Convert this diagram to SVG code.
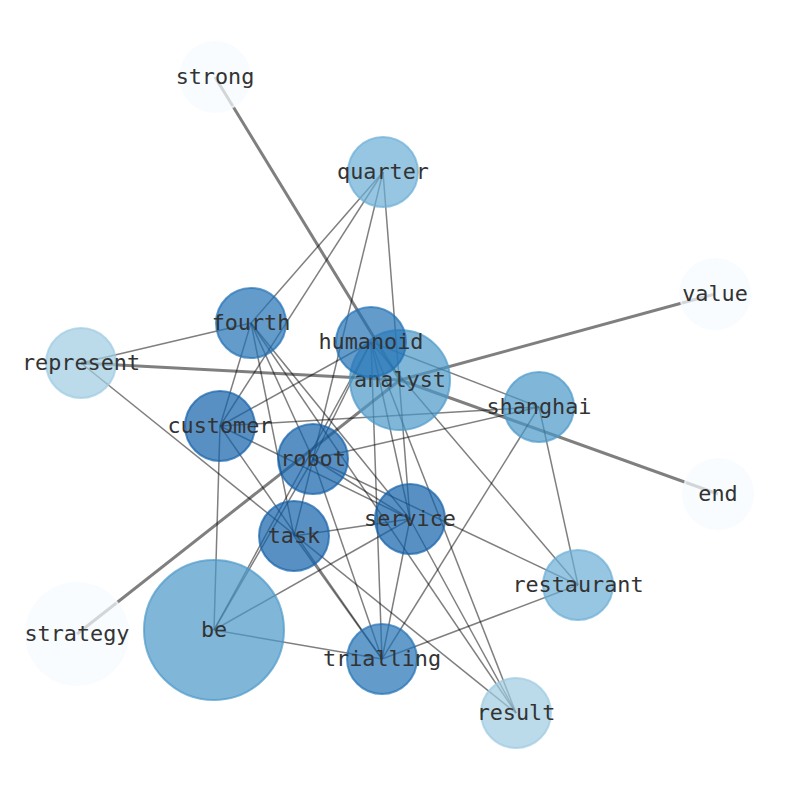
<svg xmlns="http://www.w3.org/2000/svg" width="794" height="790" viewBox="0 0 794 790">
<style>
.e{stroke:#000;stroke-opacity:0.5;stroke-width:1.5;fill:none}
.t{stroke-width:3}
.n circle{fill-opacity:0.7;stroke-opacity:0.7;stroke-width:2}
.n text{font-family:"DejaVu Sans Mono","Liberation Mono",monospace;font-size:21.8px;fill:#333;text-anchor:middle}
.c0{fill:#f7fbff;stroke:#f7fbff}
.c1{fill:#9ecae1;stroke:#9ecae1}
.c2{fill:#6baed6;stroke:#6baed6}
.c3{fill:#4a98c9;stroke:#4a98c9}
.c4{fill:#2171b5;stroke:#2171b5}
.c5{fill:#1361a9;stroke:#1361a9}
</style>
<rect width="794" height="790" fill="#fff"/>
<g id="edges">
<line class="e t" x1="215" y1="77" x2="400" y2="380"/>
<line class="e t" x1="81" y1="363" x2="400" y2="380"/>
<line class="e t" x1="715" y1="294" x2="400" y2="380"/>
<line class="e t" x1="718" y1="494" x2="400" y2="380"/>
<line class="e t" x1="77" y1="634" x2="400" y2="380"/>
<line class="e" x1="383" y1="172" x2="251" y2="323"/>
<line class="e" x1="383" y1="172" x2="220" y2="426"/>
<line class="e" x1="383" y1="172" x2="313" y2="459"/>
<line class="e" x1="383" y1="172" x2="410" y2="519"/>
<line class="e" x1="251" y1="323" x2="81" y2="363"/>
<line class="e" x1="251" y1="323" x2="220" y2="426"/>
<line class="e" x1="251" y1="323" x2="294" y2="536"/>
<line class="e" x1="251" y1="323" x2="313" y2="459"/>
<line class="e" x1="251" y1="323" x2="410" y2="519"/>
<line class="e" x1="251" y1="323" x2="516" y2="713"/>
<line class="e" x1="371" y1="342" x2="220" y2="426"/>
<line class="e" x1="371" y1="342" x2="313" y2="459"/>
<line class="e" x1="371" y1="342" x2="539" y2="407"/>
<line class="e" x1="371" y1="342" x2="578" y2="585"/>
<line class="e" x1="371" y1="342" x2="382" y2="659"/>
<line class="e" x1="371" y1="342" x2="214" y2="630"/>
<line class="e" x1="371" y1="342" x2="410" y2="519"/>
<line class="e" x1="371" y1="342" x2="516" y2="713"/>
<line class="e" x1="220" y1="426" x2="539" y2="407"/>
<line class="e" x1="220" y1="426" x2="410" y2="519"/>
<line class="e" x1="220" y1="426" x2="382" y2="659"/>
<line class="e" x1="220" y1="426" x2="214" y2="630"/>
<line class="e" x1="313" y1="459" x2="578" y2="585"/>
<line class="e" x1="313" y1="459" x2="539" y2="407"/>
<line class="e" x1="313" y1="459" x2="294" y2="536"/>
<line class="e" x1="313" y1="459" x2="410" y2="519"/>
<line class="e" x1="313" y1="459" x2="382" y2="659"/>
<line class="e" x1="313" y1="459" x2="214" y2="630"/>
<line class="e" x1="410" y1="519" x2="294" y2="536"/>
<line class="e" x1="410" y1="519" x2="214" y2="630"/>
<line class="e" x1="410" y1="519" x2="382" y2="659"/>
<line class="e" x1="410" y1="519" x2="516" y2="713"/>
<line class="e" x1="294" y1="536" x2="382" y2="659"/>
<line class="e" x1="81" y1="363" x2="516" y2="713"/>
<line class="e" x1="539" y1="407" x2="382" y2="659"/>
<line class="e" x1="539" y1="407" x2="578" y2="585"/>
<line class="e" x1="382" y1="659" x2="578" y2="585"/>
<line class="e" x1="382" y1="659" x2="214" y2="630"/>
</g>
<g id="n-strong" class="n"><circle class="c0" cx="215" cy="77" r="35"/><text x="215" y="84">strong</text></g>
<g id="n-quarter" class="n"><circle class="c2" cx="383" cy="172" r="35"/><text x="383" y="179">quarter</text></g>
<g id="n-value" class="n"><circle class="c0" cx="715" cy="294" r="35"/><text x="715" y="301">value</text></g>
<g id="n-fourth" class="n"><circle class="c4" cx="251" cy="323" r="35"/><text x="251" y="330">fourth</text></g>
<g id="n-represent" class="n"><circle class="c1" cx="81" cy="363" r="35"/><text x="81" y="370">represent</text></g>
<g id="n-analyst" class="n"><circle class="c3" cx="400" cy="380" r="50"/><text x="400" y="387">analyst</text></g>
<g id="n-humanoid" class="n"><circle class="c4" cx="371" cy="342" r="35"/><text x="371" y="349">humanoid</text></g>
<g id="n-shanghai" class="n"><circle class="c3" cx="539" cy="407" r="35"/><text x="539" y="414">shanghai</text></g>
<g id="n-customer" class="n"><circle class="c5" cx="220" cy="426" r="35"/><text x="220" y="433">customer</text></g>
<g id="n-robot" class="n"><circle class="c5" cx="313" cy="459" r="35"/><text x="313" y="466">robot</text></g>
<g id="n-end" class="n"><circle class="c0" cx="718" cy="494" r="35"/><text x="718" y="501">end</text></g>
<g id="n-service" class="n"><circle class="c5" cx="410" cy="519" r="35"/><text x="410" y="526">service</text></g>
<g id="n-task" class="n"><circle class="c5" cx="294" cy="536" r="35"/><text x="294" y="543">task</text></g>
<g id="n-restaurant" class="n"><circle class="c2" cx="578" cy="585" r="35"/><text x="578" y="592">restaurant</text></g>
<g id="n-strategy" class="n"><circle class="c0" cx="77" cy="634" r="51"/><text x="77" y="641">strategy</text></g>
<g id="n-be" class="n"><circle class="c3" cx="214" cy="630" r="70"/><text x="214" y="637">be</text></g>
<g id="n-trialling" class="n"><circle class="c4" cx="382" cy="659" r="35"/><text x="382" y="666">trialling</text></g>
<g id="n-result" class="n"><circle class="c1" cx="516" cy="713" r="35"/><text x="516" y="720">result</text></g>
</svg>
